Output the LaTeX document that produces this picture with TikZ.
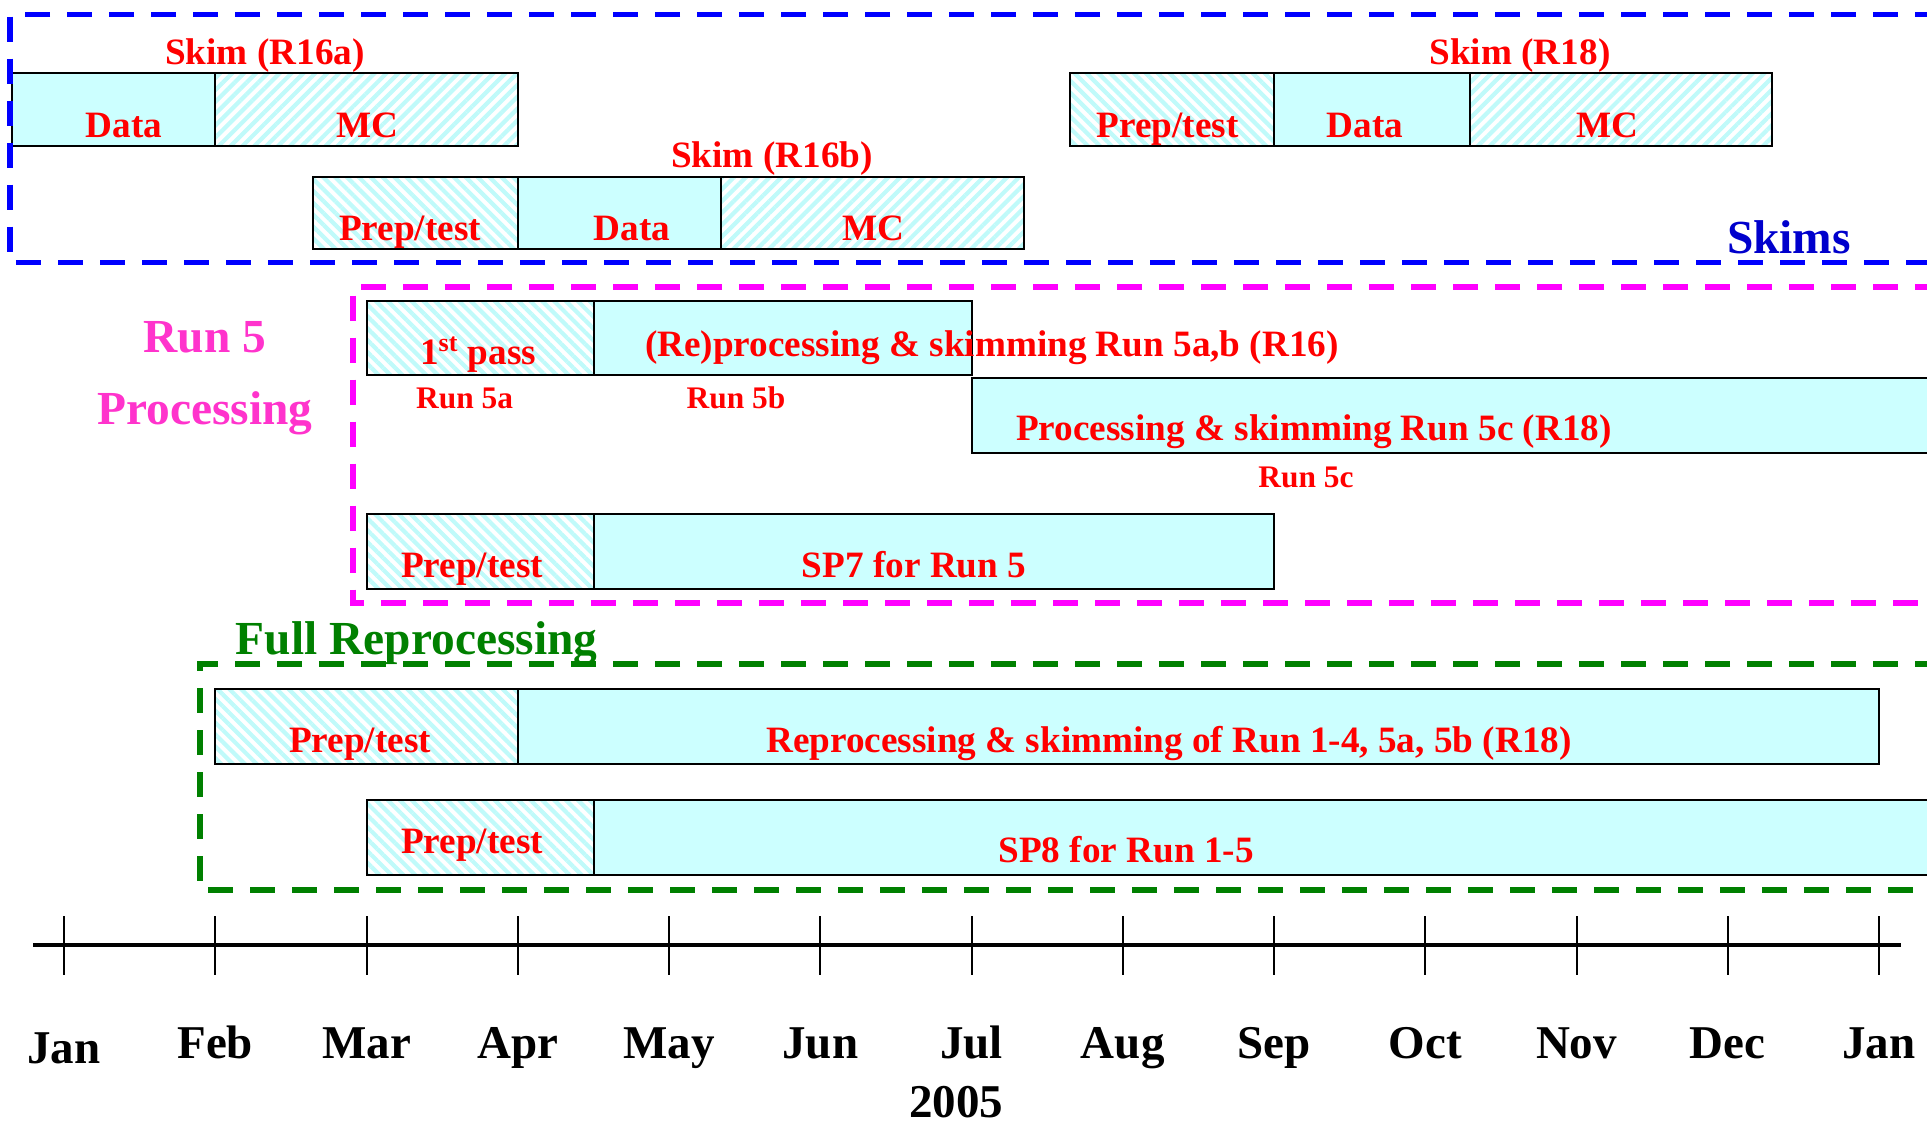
\documentclass[tikz,border=0pt]{standalone}
\usepackage{fontspec}
\setmainfont{Liberation Serif}
\usetikzlibrary{patterns.meta,fit}
\definecolor{cyanfill}{HTML}{CCFFFF}
\definecolor{hatchcyan}{HTML}{C0FAFA}
\definecolor{skimblue}{HTML}{0000FF}
\definecolor{skimtext}{HTML}{0000CC}
\definecolor{runmag}{HTML}{FF00FF}
\definecolor{runtext}{HTML}{FF33CC}
\definecolor{fullgreen}{HTML}{008000}
\tikzset{
  box/.style={draw=black, line width=1pt, inner sep=0pt, outer sep=0pt},
  plainbox/.style={box, fill=cyanfill},
  hatchne/.style={box, pattern={Lines[angle=45,distance=4.2pt,line width=2.1pt]}, pattern color=hatchcyan},
  hatchnw/.style={box, pattern={Lines[angle=-45,distance=4.2pt,line width=2.1pt]}, pattern color=hatchcyan},
  lbl/.style={anchor=base, inner sep=0pt, text=red, font=\fontsize{18.6}{20}\selectfont\bfseries},
  smalllbl/.style={anchor=base, inner sep=0pt, text=red, font=\fontsize{15.7}{17}\selectfont\bfseries},
  biglbl/.style={anchor=base, inner sep=0pt, font=\fontsize{23.7}{26}\selectfont\bfseries},
  monthlbl/.style={anchor=base, inner sep=0pt, text=black, font=\fontsize{23.5}{26}\selectfont\bfseries},
  region/.style={line width=2.9pt, dash pattern=on 12.5pt off 8.5pt},
  tickline/.style={line width=1pt, black},
  axisline/.style={line width=1.8pt, black}
}
\begin{document}
\begin{tikzpicture}[x=0.5pt,y=-0.5pt]
\useasboundingbox (0,0) rectangle (1927,1125);
\clip (0,0) rectangle (1927,1125);

% ---------------- Skims ----------------
\node[plainbox, fit={(12,72.7)(215.25,145.5)}] (aData) {};
\node[hatchne, fit={(215.25,72.7)(517.75,145.5)}] (aMC) {};
\node[lbl] (aTitle) at (265,64) {Skim (R16a)};
\node[lbl] (aDataT) at (124,137) {Data};
\node[lbl] (aMCT) at (367,137) {MC};

\node[hatchnw, fit={(313,176.7)(517.75,248.5)}] (bPrep) {};
\node[plainbox, fit={(517.75,176.7)(721,248.5)}] (bData) {};
\node[hatchne, fit={(721,176.7)(1024,248.5)}] (bMC) {};
\node[lbl] (bTitle) at (772,167) {Skim (R16b)};
\node[lbl] (bPrepT) at (410,240) {Prep/test};
\node[lbl] (bDataT) at (632,240) {Data};
\node[lbl] (bMCT) at (873,240) {MC};

\node[hatchnw, fit={(1069.5,72.7)(1274,145.5)}] (cPrep) {};
\node[plainbox, fit={(1274,72.7)(1470,145.5)}] (cData) {};
\node[hatchne, fit={(1470,72.7)(1772,145.5)}] (cMC) {};
\node[lbl] (cTitle) at (1520,64) {Skim (R18)};
\node[lbl] (cPrepT) at (1167.5,137) {Prep/test};
\node[lbl] (cDataT) at (1365,137) {Data};
\node[lbl] (cMCT) at (1607.5,137) {MC};

\draw[region, skimblue] (1940,14.5) -- (10,14.5) -- (10,262.5) -- (1940,262.5);
\node[biglbl, text=skimtext] (skims) at (1789,253.5) {Skims};

% ---------------- Run 5 processing ----------------
\node[hatchnw, fit={(366.5,300.7)(593.6,375)}] (pFirst) {};
\node[plainbox, fit={(593.6,300.7)(971.5,375)}] (pRe) {};
\node[plainbox, fit={(971.5,378)(1945,452.5)}] (pFive) {};
\node[lbl] (pFirstT) at (478,364) {1\textsuperscript{st} pass};
\node[lbl] (pReT) at (992,356) {(Re)processing \& skimming Run 5a,b (R16)};
\node[smalllbl] (r5a) at (464.6,408.5) {Run 5a};
\node[smalllbl] (r5b) at (736,408.5) {Run 5b};
\node[lbl] (pFiveT) at (1314,440.5) {Processing \& skimming Run 5c (R18)};
\node[smalllbl] (r5c) at (1306,487.5) {Run 5c};

\node[hatchnw, fit={(366.5,513.7)(593.6,588.5)}] (sPrep) {};
\node[plainbox, fit={(593.6,513.7)(1274,588.5)}] (sSP) {};
\node[lbl] (sPrepT) at (472,577.5) {Prep/test};
\node[lbl] (sSPT) at (914,577.5) {SP7 for Run 5};

\draw[region, runmag] (1940,287) -- (352.7,287) -- (352.7,603) -- (1940,603);
\node[biglbl, text=runtext] (run5) at (205,352.5) {Run 5};
\node[biglbl, text=runtext] (proc) at (205,424) {Processing};

% ---------------- Full reprocessing ----------------
\node[hatchnw, fit={(215.25,689)(517.75,764)}] (fPrep) {};
\node[plainbox, fit={(517.75,689)(1879,764)}] (fRe) {};
\node[lbl] (fPrepT) at (360,752) {Prep/test};
\node[lbl] (fReT) at (1169,752) {Reprocessing \& skimming of Run 1-4, 5a, 5b (R18)};

\node[hatchnw, fit={(366.5,799.5)(593.6,874.5)}] (gPrep) {};
\node[plainbox, fit={(593.6,799.5)(1945,874.5)}] (gSP) {};
\node[lbl] (gPrepT) at (472,853.5) {Prep/test};
\node[lbl] (gSPT) at (1126,862) {SP8 for Run 1-5};

\draw[region, fullgreen] (1940,664) -- (200,664) -- (200,890) -- (1940,890);
\node[biglbl, text=fullgreen] (full) at (416.6,654.5) {Full Reprocessing};

% ---------------- Timeline ----------------
\coordinate (axL) at (33,945);
\coordinate (axR) at (1901,945);
\draw[axisline] (axL) -- (axR);
\foreach \m/\name in {0/Jan,1/Feb,2/Mar,3/Apr,4/May,5/Jun,6/Jul,7/Aug,8/Sep,9/Oct,10/Nov,11/Dec,12/Jan}{
  \coordinate (tt\m) at ({64+151.25*\m},916);
  \coordinate (tb\m) at ({64+151.25*\m},975);
  \draw[tickline] (tt\m) -- (tb\m);
  \ifnum\m=0
    \node[monthlbl] (mon\m) at ({64+151.25*\m},1063) {\name};
  \else
    \node[monthlbl] (mon\m) at ({64+151.25*\m},1058) {\name};
  \fi
}
\node[monthlbl] (year) at (956,1117) {2005};
\end{tikzpicture}
\end{document}
